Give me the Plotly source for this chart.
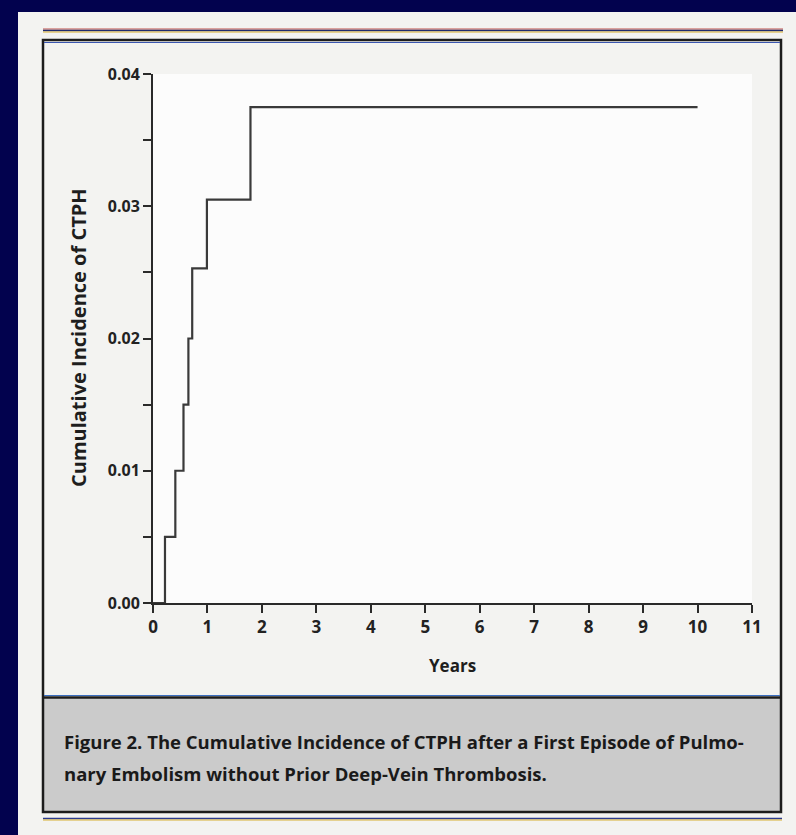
import plotly.graph_objects as go

# ---- data ----
years = [0, 0.22, 0.41, 0.56, 0.65, 0.72, 0.99, 1.79, 10.0]
cum_incidence = [0, 0.005, 0.010, 0.015, 0.020, 0.0253, 0.0305, 0.0375, 0.0375]
x_ticks = list(range(0, 12))
y_major = [0.00, 0.01, 0.02, 0.03, 0.04]
y_major_labels = ["0.00", "0.01", "0.02", "0.03", "0.04"]
caption_lines = [
    "Figure 2. The Cumulative Incidence of CTPH after a First Episode of Pulmo-",
    "nary Embolism without Prior Deep-Vein Thrombosis.",
]

W, H = 796, 835
L, R, T, B = 153, 752, 74, 603   # plot area in pixels


def px(xp):
    return (xp - L) / (R - L)


def py(yp):
    return (B - yp) / (B - T)


NAVY = "#02024e"
INK = "#2a2a2a"
FONT = "Open Sans"

fig = go.Figure()
fig.add_trace(go.Scatter(
    x=years, y=cum_incidence, mode="lines", line_shape="hv",
    line=dict(color="#3a3a3a", width=2.2), showlegend=False, hoverinfo="skip"))

shapes = []
# paper sheet
shapes.append(dict(type="rect", xref="paper", yref="paper", layer="below",
                   x0=px(18), x1=px(796), y0=py(12), y1=py(835),
                   fillcolor="#f3f3f1", line=dict(width=0)))
# caption shaded area
shapes.append(dict(type="rect", xref="paper", yref="paper", layer="below",
                   x0=px(43), x1=px(782), y0=py(698), y1=py(812),
                   fillcolor="#cbcbcb", line=dict(width=0)))
# plot area white
shapes.append(dict(type="rect", xref="paper", yref="paper", layer="below",
                   x0=0, x1=1, y0=0, y1=1,
                   fillcolor="#fcfcfc", line=dict(width=0)))
# top rule (colour fringed)
for yy, col, w in [(29, "#c0504a", 1), (30.5, "#1f2a6e", 1.6), (32, "#d8b030", 1)]:
    shapes.append(dict(type="line", xref="paper", yref="paper",
                       x0=px(43), x1=px(783), y0=py(yy), y1=py(yy),
                       line=dict(color=col, width=w)))
# frame box
shapes.append(dict(type="rect", xref="paper", yref="paper",
                   x0=px(43), x1=px(781), y0=py(40), y1=py(812),
                   line=dict(color="#1c1c1c", width=2.5)))
shapes.append(dict(type="line", xref="paper", yref="paper",
                   x0=px(44), x1=px(780), y0=py(42.5), y1=py(42.5),
                   line=dict(color="#3a56b0", width=1)))
# separator between plot and caption
shapes.append(dict(type="line", xref="paper", yref="paper",
                   x0=px(43), x1=px(781), y0=py(697.5), y1=py(697.5),
                   line=dict(color="#1c1c1c", width=2.5)))
shapes.append(dict(type="line", xref="paper", yref="paper",
                   x0=px(44), x1=px(780), y0=py(695.5), y1=py(695.5),
                   line=dict(color="#3a6ec0", width=1)))
# bottom rule
for yy, col, w in [(818.5, "#2a3a8e", 1.6), (820, "#d8b030", 1)]:
    shapes.append(dict(type="line", xref="paper", yref="paper",
                       x0=px(43), x1=px(782), y0=py(yy), y1=py(yy),
                       line=dict(color=col, width=w)))

annotations = [
    dict(text="Cumulative Incidence of CTPH", xref="paper", yref="paper",
         x=px(78), y=py(338), textangle=-90, showarrow=False,
         xanchor="center", yanchor="middle",
         font=dict(family=FONT, size=20, color="#1e1e1e", weight="bold")),
    dict(text="Years", xref="paper", yref="paper",
         x=px(452), y=py(665), showarrow=False,
         xanchor="center", yanchor="middle",
         font=dict(family=FONT, size=17, color="#1e1e1e", weight="bold")),
]
for i, line in enumerate(caption_lines):
    annotations.append(dict(
        text=line, xref="paper", yref="paper",
        x=px(62), y=py(741 + 32 * i), showarrow=False,
        xanchor="left", yanchor="middle",
        font=dict(family=FONT, size=18.5, color="#1a1a1a", weight="bold")))

fig.update_layout(
    width=W, height=H,
    margin=dict(l=L, r=W - R, t=T, b=H - B, pad=0),
    paper_bgcolor=NAVY, plot_bgcolor="rgba(0,0,0,0)",
    shapes=shapes, annotations=annotations, showlegend=False,
    xaxis=dict(range=[0, 11], tickvals=x_ticks, ticks="outside", ticklen=8,
               tickwidth=2, tickcolor=INK, showline=True, linecolor=INK,
               linewidth=2, showgrid=False, zeroline=False,
               tickfont=dict(family=FONT, size=17, color="#222", weight="bold")),
    yaxis=dict(range=[0, 0.04], tickvals=y_major, ticktext=y_major_labels,
               ticks="outside", ticklen=8, tickwidth=2, tickcolor=INK,
               showline=True, linecolor=INK, linewidth=2, showgrid=False,
               zeroline=False,
               minor=dict(dtick=0.005, ticks="outside", ticklen=8,
                          tickwidth=2, tickcolor=INK, showgrid=False),
               tickfont=dict(family=FONT, size=16, color="#222", weight="bold")),
)

fig.write_html("out.html")
